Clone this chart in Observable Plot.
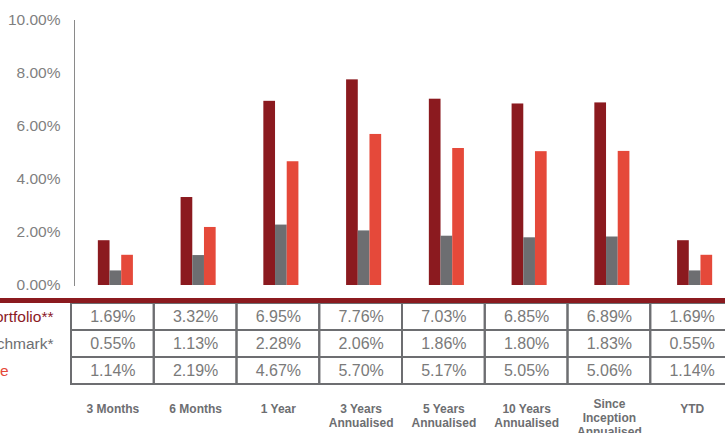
<!DOCTYPE html>
<html>
<head>
<meta charset="utf-8">
<script src="https://cdn.jsdelivr.net/npm/d3@7"></script>
<script src="https://cdn.jsdelivr.net/npm/@observablehq/plot@0.6"></script>
<style>
  html, body { margin: 0; padding: 0; background: #fff; }
  #wrap { width: 725px; height: 433px; overflow: hidden; font-family: "Liberation Sans", Arial, sans-serif; }
  #wrap svg { display: block; }
  .redline { height: 5px; background: #8B1A1F; width: 725px; }
</style>
</head>
<body>
<div id="wrap"></div>
<script>
const categories = ["3 Months", "6 Months", "1 Year", "3 Years Annualised", "5 Years Annualised", "10 Years Annualised", "Since Inception Annualised", "YTD"];
const categoryLabels = ["3 Months", "6 Months", "1 Year", "3 Years\nAnnualised", "5 Years\nAnnualised", "10 Years\nAnnualised", "Since\nInception\nAnnualised", "YTD"];
const series = ["Portfolio**", "Benchmark*", "Outperformance"];
const portfolio = [1.69, 3.32, 6.95, 7.76, 7.03, 6.85, 6.89, 1.69];
const benchmark = [0.55, 1.13, 2.28, 2.06, 1.86, 1.80, 1.83, 0.55];
const outperformance = [1.14, 2.19, 4.67, 5.70, 5.17, 5.05, 5.06, 1.14];
const yTicks = [0, 2, 4, 6, 8, 10];
const seriesColors = ["#8B1A1F", "#6D6E71", "#E5493A"];

const values = [portfolio, benchmark, outperformance];
const data = categories.flatMap((c, i) => series.map((s, j) => ({category: c, series: s, value: values[j][i]})));
const pct = v => v.toFixed(2) + "%";
const font = "Liberation Sans, Arial, sans-serif";
const colW = 82.75;
const labelOf = d => categoryLabels[categories.indexOf(d)];
const threeLine = categories.filter(c => labelOf(c).split("\n").length > 2);
const shortLabels = categories.filter(c => labelOf(c).split("\n").length <= 2);

const chart = Plot.plot({
  width: 725, height: 298,
  marginTop: 20, marginBottom: 13, marginLeft: 74, marginRight: 0,
  style: {fontFamily: font, background: "#fff", overflow: "hidden"},
  fx: {domain: categories, range: [74, 74 + 8 * colW], padding: 0, round: false, axis: null},
  x: {domain: series, paddingInner: 0, paddingOuter: 2.04, round: false, axis: null},
  y: {domain: [0, 10], axis: null},
  color: {domain: series, range: seriesColors},
  marks: [
    Plot.frame({anchor: "left", stroke: "#8a8a8a", facetAnchor: "left"}),
    Plot.axisY({ticks: yTicks, tickFormat: pct, tickSize: 0, tickPadding: 14, fontSize: 15.5, fill: "#7f7f7f", label: null}),
    Plot.barY(data, {fx: "category", x: "series", y: "value", fill: "series"})
  ]
});

const table = Plot.plot({
  width: 725, height: 130,
  marginTop: 0, marginBottom: 49, marginLeft: 71, marginRight: 0,
  style: {fontFamily: font, background: "#fff", overflow: "hidden"},
  x: {domain: categories, range: [71, 71 + 8 * colW], padding: 0, round: false, axis: null},
  y: {domain: series, range: [0, 81], padding: 0, round: false, axis: null},
  marks: [
    Plot.cell(data, {x: "category", y: "series", stroke: "#6D6E71", strokeWidth: 2, fill: "none"}),
    Plot.text(data, {x: "category", y: "series", text: d => pct(d.value), fontSize: 16, fill: "#7a7a7a"}),
    Plot.text(series.slice(0, 2), {y: d => d, text: d => d, frameAnchor: "left", textAnchor: "end", dx: -18, fontSize: 15.5,
      fill: d => seriesColors[series.indexOf(d)]}),
    Plot.text(series.slice(2), {y: d => d, text: d => d, frameAnchor: "left", textAnchor: "end", dx: -63, fontSize: 15.5,
      fill: d => seriesColors[series.indexOf(d)]}),
    Plot.axisX(shortLabels, {anchor: "bottom", tickSize: 0, tickPadding: 18.5, lineHeight: 1.15, label: null,
      tickFormat: labelOf, fontSize: 12, fontWeight: "bold", fill: "#6D6E71"}),
    Plot.axisX(threeLine, {anchor: "bottom", tickSize: 0, tickPadding: 14, lineHeight: 1.15, label: null,
      tickFormat: labelOf, fontSize: 12, fontWeight: "bold", fill: "#6D6E71"})
  ]
});

const wrap = document.getElementById("wrap");
wrap.appendChild(chart);
const red = document.createElement("div");
red.className = "redline";
wrap.appendChild(red);
wrap.appendChild(table);
</script>
</body>
</html>
